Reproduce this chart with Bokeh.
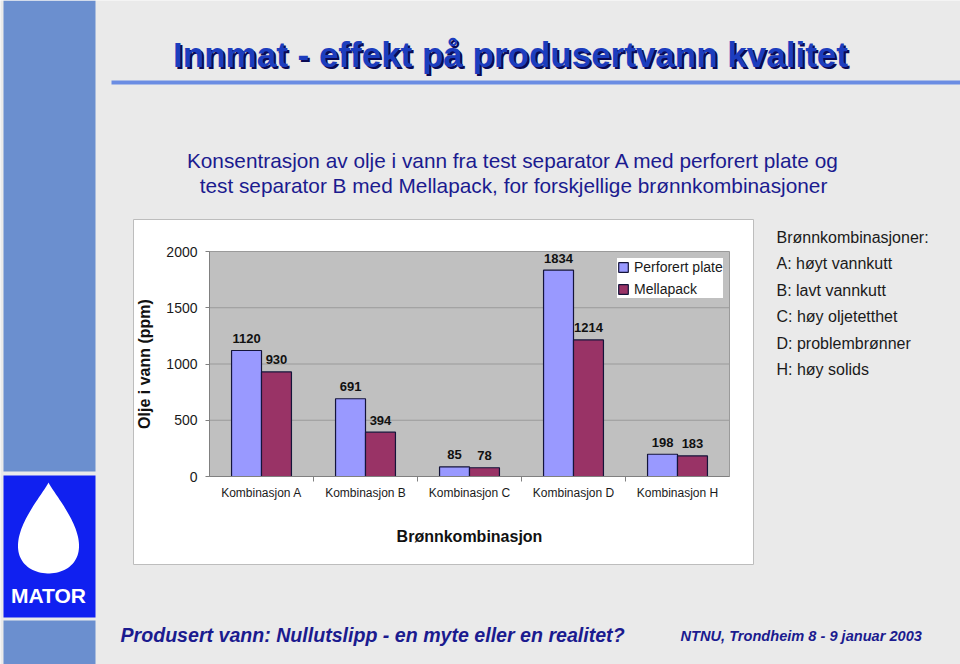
import numpy as np
from bokeh.plotting import figure
from bokeh.models import (ColumnDataSource, Range1d, LinearAxis, FixedTicker, Legend, LegendItem)
from bokeh.transform import dodge
from bokeh.core.properties import value
from bokeh.embed import file_html
from bokeh.resources import INLINE

# ---------------- data ----------------
categories = ["Kombinasjon A", "Kombinasjon B", "Kombinasjon C", "Kombinasjon D", "Kombinasjon H"]
perforert_plate = [1120, 691, 85, 1834, 198]
mellapack = [930, 394, 78, 1214, 183]
series_names = ["Perforert plate", "Mellapack"]
y_ticks = [0, 500, 1000, 1500, 2000]
notes = ["Brønnkombinasjoner:", "A: høyt vannkutt", "B: lavt vannkutt",
         "C: høy oljetetthet", "D: problembrønner", "H: høy solids"]
title_text = "Innmat - effekt på produsertvann kvalitet"
subtitle_lines = ["Konsentrasjon av olje i vann fra test separator A med perforert plate og",
                  "test separator B med Mellapack, for forskjellige brønnkombinasjoner"]
footer_left = "Produsert vann: Nullutslipp - en myte eller en realitet?"
footer_right = "NTNU, Trondheim 8 - 9 januar 2003"
y_label = "Olje i vann (ppm)"
x_label = "Brønnkombinasjon"
logo_text = "MATOR"

# ---------------- layout (page pixel coordinates) ----------------
W, H = 960, 664
OFF = 0
FL, FR, FT, FB = 209, 729, 251, 476   # plot area on the page
FONT = "Liberation Sans"
SLIDE = "#EAEAEA"
NAVY = "#1B1B8F"
YMAX = y_ticks[-1]

n = len(categories)
centers = [i + 0.5 for i in range(n)]
boundaries = [i for i in range(1, n)]

# default ranges = page pixels; "cx"/"cy" = chart data ranges placed on the plot area
p = figure(width=W, height=H, x_range=Range1d(OFF, OFF + W), y_range=Range1d(OFF + H, OFF),
           output_backend="svg", toolbar_location=None,
           x_axis_location=None, y_axis_location=None,
           min_border=0, min_border_left=0, min_border_right=0,
           min_border_top=0, min_border_bottom=0)
p.center = []
p.outline_line_color = None
p.background_fill_color = SLIDE
p.border_fill_color = SLIDE

kx = n / (FR - FL)
ky = YMAX / (FB - FT)
p.extra_x_ranges = {"cx": Range1d((OFF - FL) * kx, (OFF + W - FL) * kx)}
p.extra_y_ranges = {"cy": Range1d((FB - (OFF + H)) * ky, (FB - OFF) * ky)}
C = dict(x_range_name="cx", y_range_name="cy")

# ---------------- slide decorations ----------------
# white chart box
p.quad(left=[133], right=[753], top=[219], bottom=[564], fill_color="white",
       line_color="#BDBDBD", line_width=1)
# left band + logo
p.quad(left=[3, 3, 3], right=[95, 95, 95], top=[0, 475, 620], bottom=[471, 617, 672],
       fill_color=["#6B8FCF", "#1020F0", "#6B8FCF"], line_color=None)
t = np.linspace(0, 2 * np.pi, 120)
p.patch(48 + 42 * np.sin(t) * np.abs(np.sin(t / 2)) ** 1.3, 527.5 - 45.5 * np.cos(t),
        fill_color="white", line_color=None)
p.text(x=[48], y=[595], text=[logo_text], text_font=value(FONT), text_font_style="bold",
       text_font_size="21px", text_color="white", text_align="center", text_baseline="middle")
# title line
p.quad(left=[111], right=[960], top=[80], bottom=[84], fill_color="#6B8DE3", line_color=None)

# ---------------- chart ----------------
p.quad(left=[0], right=[n], bottom=[0], top=[YMAX], fill_color="#C0C0C0",
       line_color="#9a9a9a", line_width=1, **C)
grid_vals = y_ticks[1:-1]
p.segment(x0=[0] * len(grid_vals), x1=[n] * len(grid_vals), y0=grid_vals, y1=grid_vals,
          line_color="#9a9a9a", line_width=1, **C)

src = ColumnDataSource(dict(pos=centers, perf=perforert_plate, mella=mellapack,
                            perf_lbl=[str(v) for v in perforert_plate],
                            mella_lbl=[str(v) for v in mellapack]))
BW = 0.288
r1 = p.vbar(x=dodge("pos", -BW / 2), top="perf", bottom=0, width=BW, source=src,
            fill_color="#9999FF", line_color="#14143a", line_width=1.2, **C)
r2 = p.vbar(x=dodge("pos", BW / 2), top="mella", bottom=0, width=BW, source=src,
            fill_color="#993366", line_color="#14143a", line_width=1.2, **C)
for off, col in ((-BW / 2, "perf"), (BW / 2, "mella")):
    p.text(x=dodge("pos", off), y=col, text=col + "_lbl", source=src,
           text_align="center", text_baseline="middle", y_offset=-12,
           text_font=value(FONT), text_font_style="bold", text_font_size="13px",
           text_color="#111111", **C)

# y axis at the left edge of the plot area
ya = LinearAxis(y_range_name="cy", fixed_location=FL, bounds=(0, YMAX),
                ticker=FixedTicker(ticks=y_ticks))
p.add_layout(ya, "left")
ya.major_tick_out = 4
ya.major_tick_in = 0
ya.minor_tick_line_color = None
ya.axis_line_color = "#808080"
ya.major_tick_line_color = "#808080"
ya.major_label_standoff = 8
ya.major_label_text_font = FONT
ya.major_label_text_font_size = "14px"
ya.major_label_text_color = "#1a1a1a"
ya.axis_label = y_label
ya.axis_label_text_font = FONT
ya.axis_label_text_font_style = "bold"
ya.axis_label_text_font_size = "16px"
ya.axis_label_text_color = "#111111"
ya.axis_label_standoff = 10

# x axis at the bottom of the plot area: labels at category centres, ticks between
xa = LinearAxis(x_range_name="cx", fixed_location=FB, bounds=(0, n),
                ticker=FixedTicker(ticks=centers, minor_ticks=boundaries),
                major_label_overrides={c: lab for c, lab in zip(centers, categories)})
p.add_layout(xa, "below")
xa.axis_line_color = "#808080"
xa.major_tick_line_color = None
xa.major_tick_out = 0
xa.major_tick_in = 0
xa.minor_tick_line_color = "#808080"
xa.minor_tick_out = 5
xa.minor_tick_in = 0
xa.major_label_standoff = 4
xa.major_label_text_font = FONT
xa.major_label_text_font_size = "12px"
xa.major_label_text_color = "#1a1a1a"
xa.axis_label = x_label
xa.axis_label_text_font = FONT
xa.axis_label_text_font_style = "bold"
xa.axis_label_text_font_size = "16px"
xa.axis_label_text_color = "#111111"
xa.axis_label_standoff = 25

# legend in the top-right corner of the plot area
LEG_H = 46
legend = Legend(items=[LegendItem(label=series_names[0], renderers=[r1]),
                       LegendItem(label=series_names[1], renderers=[r2])],
                location=(617 - OFF, OFF + H - (FT + 1) - LEG_H), margin=0, padding=3, spacing=4,
                glyph_width=12, glyph_height=12, label_standoff=5, label_height=18,
                label_text_font=FONT, label_text_font_size="14px", label_text_color="#1a1a1a",
                background_fill_color="white", background_fill_alpha=1, border_line_color=None)
p.add_layout(legend)

# ---------------- slide texts (y = visual centre of the line) ----------------
def text(x, y, s, size, color, style="normal", align="left"):
    p.text(x=x, y=y, text=s, text_font=value(FONT), text_font_size=size,
           text_font_style=style, text_color=color, text_align=align, text_baseline="middle")

text([512], [56], [title_text], "35px", "#0A0A55", style="bold", align="center")
text([510], [54], [title_text], "35px", "#1C3DBE", style="bold", align="center")
text([513] * len(subtitle_lines), [160 + 25 * i for i in range(len(subtitle_lines))],
     subtitle_lines, "20.8px", NAVY, align="center")
text([776] * len(notes), [237 + 26.4 * i for i in range(len(notes))], notes, "16px", "#1a1a1a")
text([120], [634], [footer_left], "19.6px", NAVY, style="bold italic")
text([680], [635], [footer_right], "14.6px", NAVY, style="bold italic")

open("out.html", "w").write(file_html(p, INLINE))
